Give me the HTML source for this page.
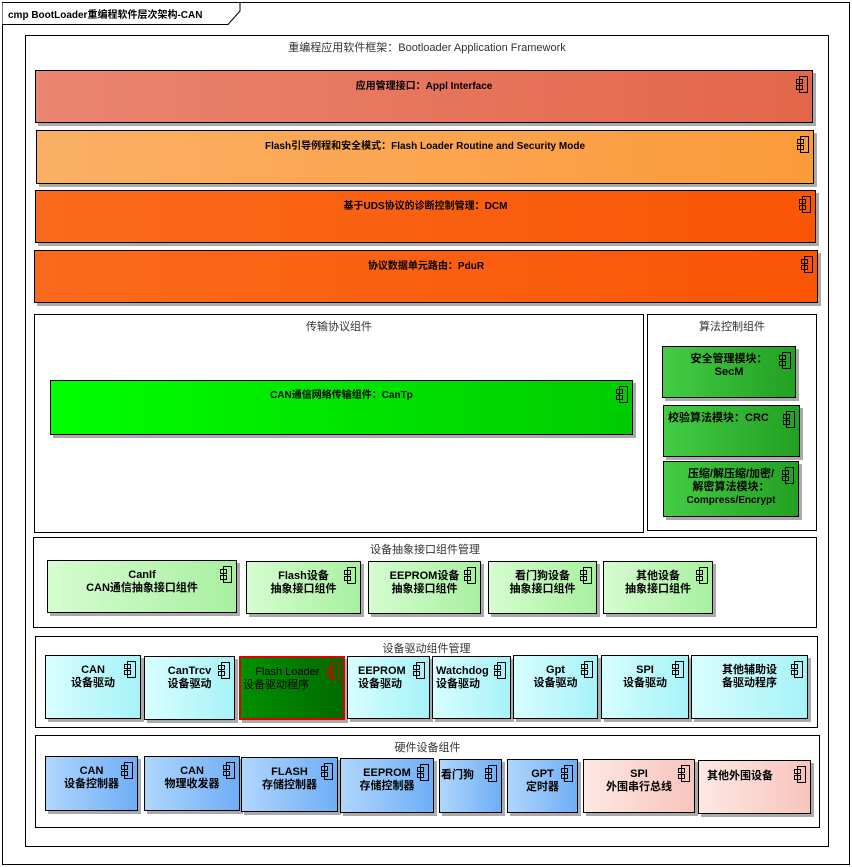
<!DOCTYPE html>
<html><head><meta charset="utf-8">
<style>
*{margin:0;padding:0;box-sizing:border-box}
body{width:852px;height:867px;background:#fff;position:relative;overflow:hidden;font-family:"Liberation Sans","Noto Sans CJK SC",sans-serif;color:#000}
.a{position:absolute}
.g{position:absolute;border:1px solid #000;background:#fff}
.gl{position:absolute;left:0;right:0;top:3px;text-align:center;font-size:11px;color:#333}
.c{position:absolute;border:1px solid #000;box-shadow:3px 3px 0 #aaa;font-size:10px;font-weight:bold;text-align:center;line-height:13px;padding-top:8px}
.ic{position:absolute;right:5px;top:5px;width:11px;height:17px}
.ic i{position:absolute;left:3px;top:0;width:9px;height:17px;border:1px solid #000}
.ic b{position:absolute;left:0;width:7px;height:5px;border:1px solid #000}
.big{padding-top:9px}
.o1{background:linear-gradient(90deg,#ea8570,#e3664a)}
.o2{background:linear-gradient(90deg,#fbb065,#fb9a3a)}
.o3{background:linear-gradient(90deg,#fa6a1c,#fa5505)}
.gr{background:linear-gradient(90deg,#00ff00,#00cc00)}
.gm{background:linear-gradient(90deg,#44cc44,#22a022)}
.lg{background:linear-gradient(90deg,#d6fcd0,#a8f0a0)}
.cy{background:linear-gradient(90deg,#d8fefe,#a6f2f8)}
.bl{background:linear-gradient(90deg,#b0d6fc,#6eaef6)}
.pk{background:linear-gradient(90deg,#fde8e4,#f8c4bc)}
.dg{background:linear-gradient(90deg,#009000,#006a00);border:2px solid #e00000;color:#000;font-weight:normal}
.dg .ic i,.dg .ic b{border-color:#e00000}
.l2{font-size:11px}
</style></head><body>
<div class="g" style="left:2px;top:2px;width:848px;height:863px"></div>
<svg class="a" style="left:2px;top:2px" width="240" height="24"><path d="M0.5 0.5 H238 V9 L226 22.5 H0.5" fill="#fff" stroke="#000"/></svg>
<div class="a" style="left:8px;top:6px;font-size:10px;font-weight:bold">cmp BootLoader重编程软件层次架构-CAN</div>

<div class="g" style="left:25px;top:35px;width:804px;height:812px"><div class="gl" style="top:3px;font-size:11px">重编程应用软件框架：Bootloader Application Framework</div></div>

<div class="c o1 big" style="left:35px;top:70px;width:778px;height:53px">应用管理接口：Appl Interface<div class="ic"><i></i><b style="top:3px"></b><b style="top:9px"></b></div></div>
<div class="c o2 big" style="left:36px;top:130px;width:778px;height:54px">Flash引导例程和安全模式：Flash Loader Routine and Security Mode<div class="ic"><i></i><b style="top:3px"></b><b style="top:9px"></b></div></div>
<div class="c o3 big" style="left:35px;top:190px;width:781px;height:53px">基于UDS协议的诊断控制管理：DCM<div class="ic"><i></i><b style="top:3px"></b><b style="top:9px"></b></div></div>
<div class="c o3 big" style="left:34px;top:250px;width:784px;height:53px">协议数据单元路由：PduR<div class="ic"><i></i><b style="top:3px"></b><b style="top:9px"></b></div></div>

<div class="g" style="left:34px;top:314px;width:610px;height:219px"><div class="gl">传输协议组件</div></div>
<div class="c gr" style="left:50px;top:380px;width:583px;height:55px">CAN通信网络传输组件：CanTp<div class="ic"><i></i><b style="top:3px"></b><b style="top:9px"></b></div></div>

<div class="g" style="left:647px;top:314px;width:170px;height:217px"><div class="gl">算法控制组件</div></div>
<div class="c gm l2" style="left:662px;top:346px;width:134px;height:52px;padding-top:6px">安全管理模块：<br>SecM<div class="ic"><i></i><b style="top:3px"></b><b style="top:9px"></b></div></div>
<div class="c gm l2" style="left:663px;top:405px;width:137px;height:52px;padding-top:6px;text-align:left;padding-left:4px">校验算法模块：CRC<div class="ic"><i></i><b style="top:3px"></b><b style="top:9px"></b></div></div>
<div class="c gm l2" style="left:663px;top:461px;width:136px;height:56px;padding-top:6px">压缩/解压缩/加密/<br>解密算法模块：<br><span style="font-size:10px">Compress/Encrypt</span><div class="ic"><i></i><b style="top:3px"></b><b style="top:9px"></b></div></div>

<div class="g" style="left:33px;top:537px;width:784px;height:91px"><div class="gl">设备抽象接口组件管理</div></div>
<div class="c lg l2" style="left:47px;top:560px;width:190px;height:53px">CanIf<br>CAN通信抽象接口组件<div class="ic"><i></i><b style="top:3px"></b><b style="top:9px"></b></div></div>
<div class="c lg l2" style="left:246px;top:561px;width:115px;height:53px">Flash设备<br>抽象接口组件<div class="ic"><i></i><b style="top:3px"></b><b style="top:9px"></b></div></div>
<div class="c lg l2" style="left:368px;top:561px;width:113px;height:53px">EEPROM设备<br>抽象接口组件<div class="ic"><i></i><b style="top:3px"></b><b style="top:9px"></b></div></div>
<div class="c lg l2" style="left:488px;top:561px;width:109px;height:53px">看门狗设备<br>抽象接口组件<div class="ic"><i></i><b style="top:3px"></b><b style="top:9px"></b></div></div>
<div class="c lg l2" style="left:603px;top:561px;width:110px;height:53px">其他设备<br>抽象接口组件<div class="ic"><i></i><b style="top:3px"></b><b style="top:9px"></b></div></div>

<div class="g" style="left:35px;top:636px;width:783px;height:92px"><div class="gl">设备驱动组件管理</div></div>
<div class="c cy l2" style="left:45px;top:655px;width:96px;height:64px">CAN<br>设备驱动<div class="ic"><i></i><b style="top:3px"></b><b style="top:9px"></b></div></div>
<div class="c cy l2" style="left:144px;top:656px;width:91px;height:64px">CanTrcv<br>设备驱动<div class="ic"><i></i><b style="top:3px"></b><b style="top:9px"></b></div></div>
<div class="c dg l2" style="left:239px;top:656px;width:106px;height:64px;text-align:left;padding-left:2px">&nbsp;&nbsp;&nbsp;&nbsp;Flash Loader<br>设备驱动程序<div class="ic"><i></i><b style="top:3px"></b><b style="top:9px"></b></div></div>
<div class="c cy l2" style="left:347px;top:656px;width:83px;height:63px;text-align:left;padding-left:10px">EEPROM<br>设备驱动<div class="ic"><i></i><b style="top:3px"></b><b style="top:9px"></b></div></div>
<div class="c cy l2" style="left:432px;top:656px;width:79px;height:63px;text-align:left;padding-left:3px">Watchdog<br>设备驱动<div class="ic"><i></i><b style="top:3px"></b><b style="top:9px"></b></div></div>
<div class="c cy l2" style="left:513px;top:655px;width:85px;height:64px">Gpt<br>设备驱动<div class="ic"><i></i><b style="top:3px"></b><b style="top:9px"></b></div></div>
<div class="c cy l2" style="left:601px;top:655px;width:88px;height:64px">SPI<br>设备驱动<div class="ic"><i></i><b style="top:3px"></b><b style="top:9px"></b></div></div>
<div class="c cy l2" style="left:691px;top:655px;width:117px;height:64px">其他辅助设<br>备驱动程序<div class="ic"><i></i><b style="top:3px"></b><b style="top:9px"></b></div></div>

<div class="g" style="left:35px;top:735px;width:785px;height:93px"><div class="gl">硬件设备组件</div></div>
<div class="c bl l2" style="left:45px;top:756px;width:93px;height:55px">CAN<br>设备控制器<div class="ic"><i></i><b style="top:3px"></b><b style="top:9px"></b></div></div>
<div class="c bl l2" style="left:144px;top:756px;width:96px;height:55px">CAN<br>物理收发器<div class="ic"><i></i><b style="top:3px"></b><b style="top:9px"></b></div></div>
<div class="c bl l2" style="left:241px;top:757px;width:97px;height:55px">FLASH<br>存储控制器<div class="ic"><i></i><b style="top:3px"></b><b style="top:9px"></b></div></div>
<div class="c bl l2" style="left:340px;top:758px;width:94px;height:55px">EEPROM<br>存储控制器<div class="ic"><i></i><b style="top:3px"></b><b style="top:9px"></b></div></div>
<div class="c bl l2" style="left:439px;top:759px;width:63px;height:54px;text-align:left;padding-left:1px;padding-top:9px">看门狗<div class="ic"><i></i><b style="top:3px"></b><b style="top:9px"></b></div></div>
<div class="c bl l2" style="left:507px;top:759px;width:71px;height:54px">GPT<br>定时器<div class="ic"><i></i><b style="top:3px"></b><b style="top:9px"></b></div></div>
<div class="c pk l2" style="left:583px;top:759px;width:112px;height:54px">SPI<br>外围串行总线<div class="ic"><i></i><b style="top:3px"></b><b style="top:9px"></b></div></div>
<div class="c pk l2" style="left:698px;top:760px;width:113px;height:54px;padding-top:9px;text-align:left;padding-left:8px">其他外围设备<div class="ic"><i></i><b style="top:3px"></b><b style="top:9px"></b></div></div>
</body></html>
